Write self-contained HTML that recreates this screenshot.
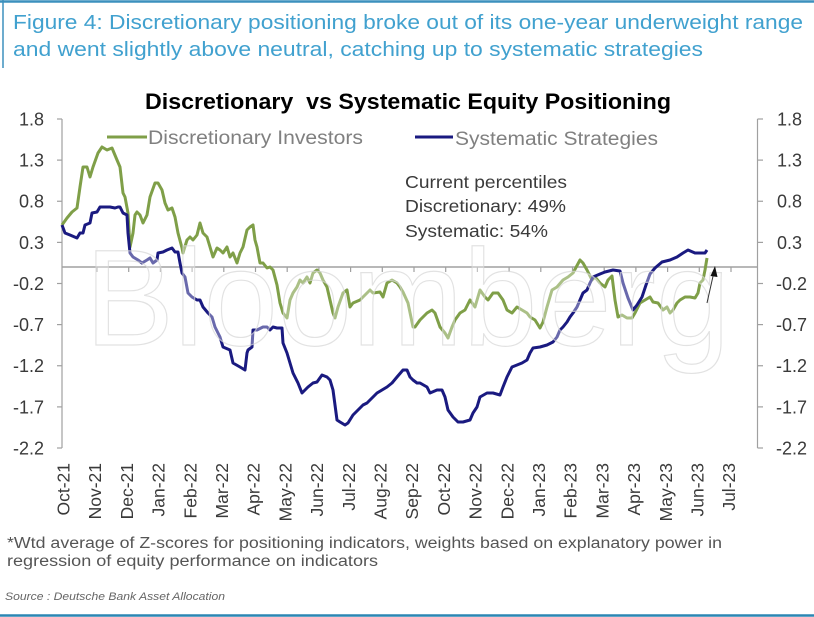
<!DOCTYPE html>
<html><head><meta charset="utf-8"><style>
html,body{margin:0;padding:0;background:#fff;}
svg{display:block;font-family:"Liberation Sans",Arial,sans-serif;}
</style></head><body>
<svg width="814" height="617" viewBox="0 0 814 617" xmlns="http://www.w3.org/2000/svg">
<rect width="814" height="617" fill="#fff"/>
<!-- header -->
<line x1="0" y1="1.5" x2="814" y2="1.5" stroke="#3c90bd" stroke-width="2.5"/>
<line x1="3" y1="0" x2="3" y2="68" stroke="#3c90bd" stroke-width="1.5"/>
<text x="13" y="29" font-size="20" fill="#41a1cf" textLength="790" lengthAdjust="spacingAndGlyphs">Figure 4: Discretionary positioning broke out of its one-year underweight range</text>
<text x="13" y="56" font-size="20" fill="#41a1cf" textLength="690" lengthAdjust="spacingAndGlyphs">and went slightly above neutral, catching up to systematic strategies</text>
<!-- chart title -->
<text x="145" y="109" font-size="22" font-weight="bold" fill="#000" style="white-space:pre" textLength="526" lengthAdjust="spacingAndGlyphs">Discretionary  vs Systematic Equity Positioning</text>
<!-- axes -->
<g stroke="#a0a0a0" stroke-width="1.2" fill="none">
<line x1="62" y1="119" x2="62" y2="448"/>
<line x1="757.5" y1="119" x2="757.5" y2="448"/>
<line x1="57" y1="119" x2="62" y2="119"/><line x1="57" y1="160.1" x2="62" y2="160.1"/><line x1="57" y1="201.25" x2="62" y2="201.25"/><line x1="57" y1="242.4" x2="62" y2="242.4"/><line x1="57" y1="283.5" x2="62" y2="283.5"/><line x1="57" y1="324.6" x2="62" y2="324.6"/><line x1="57" y1="365.75" x2="62" y2="365.75"/><line x1="57" y1="406.9" x2="62" y2="406.9"/><line x1="57" y1="448" x2="62" y2="448"/>
<line x1="757.5" y1="119" x2="763" y2="119"/><line x1="757.5" y1="160.1" x2="763" y2="160.1"/><line x1="757.5" y1="201.25" x2="763" y2="201.25"/><line x1="757.5" y1="242.4" x2="763" y2="242.4"/><line x1="757.5" y1="283.5" x2="763" y2="283.5"/><line x1="757.5" y1="324.6" x2="763" y2="324.6"/><line x1="757.5" y1="365.75" x2="763" y2="365.75"/><line x1="757.5" y1="406.9" x2="763" y2="406.9"/><line x1="757.5" y1="448" x2="763" y2="448"/>
<line x1="62" y1="267" x2="757.5" y2="267" stroke-width="1.6"/>
<path d="M97 267v5M128.7 267v5M160.4 267v5M192.1 267v5M223.8 267v5M255.5 267v5M287.2 267v5M318.9 267v5M350.6 267v5M382.3 267v5M414 267v5M445.7 267v5M477.4 267v5M509.1 267v5M540.8 267v5M572.5 267v5M604.2 267v5M635.9 267v5M667.6 267v5M699.3 267v5M731 267v5"/>
</g>
<!-- y labels -->
<g font-size="18" fill="#3a3a3a" text-anchor="end">
<text x="44" y="125.5">1.8</text><text x="44" y="166.6">1.3</text><text x="44" y="207.7">0.8</text><text x="44" y="248.9">0.3</text><text x="44" y="290">-0.2</text><text x="44" y="331.1">-0.7</text><text x="44" y="372.2">-1.2</text><text x="44" y="413.4">-1.7</text><text x="44" y="454.5">-2.2</text>
</g>
<g font-size="18" fill="#3a3a3a">
<text x="777" y="125.5">1.8</text><text x="777" y="166.6">1.3</text><text x="777" y="207.7">0.8</text><text x="777" y="248.9">0.3</text><text x="776" y="290">-0.2</text><text x="776" y="331.1">-0.7</text><text x="776" y="372.2">-1.2</text><text x="776" y="413.4">-1.7</text><text x="776" y="454.5">-2.2</text>
</g>
<!-- x labels -->
<g font-size="17.5" fill="#3a3a3a" text-anchor="end">
<text transform="translate(69.5,463) rotate(-90)">Oct-21</text>
<text transform="translate(101.2,463) rotate(-90)">Nov-21</text>
<text transform="translate(132.9,463) rotate(-90)">Dec-21</text>
<text transform="translate(164.6,463) rotate(-90)">Jan-22</text>
<text transform="translate(196.3,463) rotate(-90)">Feb-22</text>
<text transform="translate(228,463) rotate(-90)">Mar-22</text>
<text transform="translate(259.7,463) rotate(-90)">Apr-22</text>
<text transform="translate(291.4,463) rotate(-90)">May-22</text>
<text transform="translate(323.1,463) rotate(-90)">Jun-22</text>
<text transform="translate(354.8,463) rotate(-90)">Jul-22</text>
<text transform="translate(386.5,463) rotate(-90)">Aug-22</text>
<text transform="translate(418.2,463) rotate(-90)">Sep-22</text>
<text transform="translate(449.9,463) rotate(-90)">Oct-22</text>
<text transform="translate(481.6,463) rotate(-90)">Nov-22</text>
<text transform="translate(513.3,463) rotate(-90)">Dec-22</text>
<text transform="translate(545,463) rotate(-90)">Jan-23</text>
<text transform="translate(576.7,463) rotate(-90)">Feb-23</text>
<text transform="translate(608.4,463) rotate(-90)">Mar-23</text>
<text transform="translate(640.1,463) rotate(-90)">Apr-23</text>
<text transform="translate(671.8,463) rotate(-90)">May-23</text>
<text transform="translate(703.5,463) rotate(-90)">Jun-23</text>
<text transform="translate(735.2,463) rotate(-90)">Jul-23</text>
</g>
<!-- series -->
<polyline fill="none" stroke="#7f9f48" stroke-width="3" stroke-linejoin="round" points="62,225 67,218 72,212 77,208 80,187 83,167 87,167 90,177 93,167 98,153 102,147 107,150 112,148 117,160 120,167 123,193 125,197 128,213 130,247 133,233 135,215 137,212 140,215 143,223 147,215 150,197 155,183 158,183 162,190 165,203 168,210 172,208 175,217 178,233 182,248 183,253 187,240 190,237 193,240 197,235 200,223 203,233 207,237 210,247 213,257 217,248 220,250 223,253 227,247 230,257 233,253 237,263 240,253 243,247 247,230 250,227 253,225 255,240 257,247 260,263 263,263 267,268 270,267 273,270 277,285 280,303 283,313 287,318 290,300 293,293 297,287 300,280 303,283 307,277 310,283 313,273 317,270 320,273 323,280 327,287 330,300 333,313 335,318 338,307 343,293 347,290 350,307 353,303 360,300 363,297 367,293 370,290 373,293 380,292 383,297 387,283 392,280 397,283 400,287 403,292 408,303 413,327 415,327 420,320 427,313 432,310 435,313 440,327 445,333 448,338 452,327 455,320 460,313 465,310 470,300 475,307 480,290 485,297 488,300 493,293 498,293 503,300 507,310 512,313 517,307 522,310 527,313 530,317 535,320 540,328 543,322 547,307 552,290 557,287 563,280 568,277 573,273 580,260 583,263 587,270 592,280 595,277 600,283 605,287 608,280 612,276 615,300 618,317 622,315 627,318 632,318 635,313 640,303 645,300 650,297 653,302 658,303 663,310 667,307 670,313 673,310 677,303 680,300 685,297 690,297 695,298 698,293 700,283 703,280 705,270 707,258"/>
<polyline fill="none" stroke="#1a1a80" stroke-width="3" stroke-linejoin="round" points="62,225 65,233 70,235 77,238 80,233 83,233 85,225 90,223 92,213 97,212 100,207 110,207 115,208 118,207 120,207 123,213 127,215 128,233 130,253 133,257 138,260 142,263 147,260 150,258 153,263 157,260 158,253 163,252 167,250 172,248 175,252 178,252 180,263 182,273 185,277 188,293 192,297 197,300 200,300 203,307 208,313 212,317 215,327 220,337 223,347 230,350 233,363 240,367 245,370 247,353 248,350 252,347 253,330 257,330 263,327 267,327 270,330 273,327 277,328 282,328 283,343 287,353 290,363 293,373 298,383 302,393 305,390 308,387 313,383 317,382 322,375 327,377 330,380 333,390 337,420 340,422 345,425 348,423 353,415 358,410 363,405 367,403 372,398 377,393 382,390 387,387 392,383 397,377 403,370 407,370 410,377 413,380 417,383 420,383 427,387 430,393 437,390 442,390 445,397 448,410 453,417 458,422 463,422 470,420 473,413 477,407 480,397 487,393 493,393 500,395 503,387 507,377 512,367 517,365 522,363 527,360 530,353 533,348 540,347 547,345 553,342 557,337 560,330 563,327 567,322 570,317 573,313 577,307 580,300 583,293 587,290 590,283 593,277 600,274 605,272 613,270 620,271 623,283 628,298 633,310 637,305 642,297 646,285 650,274 655,268 662,262 670,260 677,257 683,253 688,250 695,253 700,253 705,253 707,250"/>
<!-- watermark -->
<text x="85" y="345" font-size="137" fill="#fff" fill-opacity="0.35" stroke="#d6d6d6" stroke-opacity="0.7" stroke-width="1.2" textLength="645" lengthAdjust="spacingAndGlyphs">Bloomberg</text>
<!-- arrow -->
<line x1="707" y1="303" x2="713.5" y2="274" stroke="#333" stroke-width="1"/>
<polygon points="715,266 710.5,276 717.5,277" fill="#111"/>
<!-- legend -->
<line x1="107" y1="137" x2="147" y2="137" stroke="#7f9f48" stroke-width="3"/>
<text x="148" y="144" font-size="19" fill="#808080" textLength="215" lengthAdjust="spacingAndGlyphs">Discretionary Investors</text>
<line x1="415" y1="137" x2="453" y2="137" stroke="#1a1a80" stroke-width="3"/>
<text x="455" y="145" font-size="19" fill="#808080" textLength="203" lengthAdjust="spacingAndGlyphs">Systematic Strategies</text>
<!-- annotation -->
<g font-size="17.5" fill="#3a3a3a">
<text x="405" y="188" textLength="162" lengthAdjust="spacingAndGlyphs">Current percentiles</text>
<text x="405" y="212" textLength="161" lengthAdjust="spacingAndGlyphs">Discretionary: 49%</text>
<text x="405" y="237" textLength="143" lengthAdjust="spacingAndGlyphs">Systematic: 54%</text>
</g>
<!-- footnote -->
<text x="7" y="548" font-size="15.5" fill="#555" textLength="715" lengthAdjust="spacingAndGlyphs">*Wtd average of Z-scores for positioning indicators, weights based on explanatory power in</text>
<text x="7" y="566" font-size="15.5" fill="#555" textLength="371" lengthAdjust="spacingAndGlyphs">regression of equity performance on indicators</text>
<text x="5" y="600" font-size="11" font-style="italic" fill="#666" textLength="220" lengthAdjust="spacingAndGlyphs">Source : Deutsche Bank Asset Allocation</text>
<line x1="0" y1="615.5" x2="814" y2="615.5" stroke="#2b86b3" stroke-width="2.5"/>
</svg>
</body></html>
